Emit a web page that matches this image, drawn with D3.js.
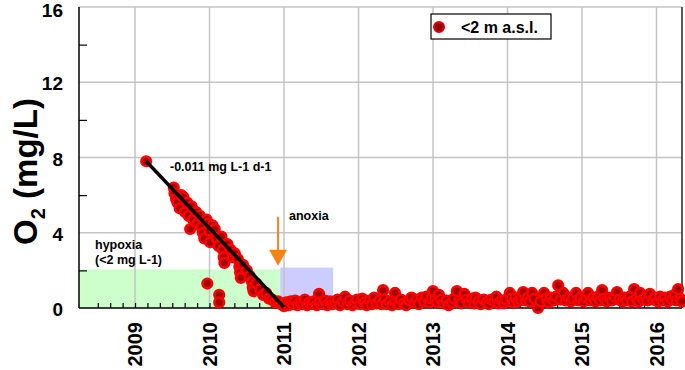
<!DOCTYPE html>
<html>
<head>
<meta charset="utf-8">
<script src="https://cdn.jsdelivr.net/npm/d3@7"></script>
<style>
  body { margin: 0; background: #fff; }
  text { font-family: "Liberation Sans", Arial, sans-serif; font-weight: bold; }
</style>
</head>
<body>
<svg id="chart" width="685" height="370"></svg>
<script>
// sample values: [decimal year, O2 mg/L]
const decline = [
  [2009.15,7.8],[2009.52,6.4],[2009.53,6.1],[2009.55,5.8],[2009.57,5.6],[2009.60,5.3],[2009.62,6.0],
  [2009.65,5.9],[2009.67,5.1],[2009.70,5.6],[2009.72,4.9],[2009.74,4.2],[2009.76,5.4],[2009.78,4.7],
  [2009.82,5.1],[2009.84,4.5],[2009.87,4.9],[2009.89,4.3],[2009.91,4.0],[2009.93,3.7],[2009.96,4.7],
  [2009.97,1.3],[2009.99,4.5],[2010.00,4.1],[2010.01,3.5],[2010.04,4.4],[2010.07,4.2],[2010.10,3.7],
  [2010.12,3.3],[2010.13,0.7],[2010.13,0.3],[2010.16,3.8],[2010.18,3.1],[2010.19,2.7],[2010.20,2.4],
  [2010.24,3.4],[2010.28,3.1],[2010.31,2.7],[2010.34,2.9],[2010.38,2.6],[2010.40,2.2],[2010.41,1.9],
  [2010.42,1.6],[2010.45,2.3],[2010.50,2.0],[2010.54,1.7],[2010.57,1.4],[2010.58,1.1],[2010.59,0.9],
  [2010.63,1.3],[2010.68,1.0],[2010.72,0.7],[2010.76,0.8],[2010.80,0.5],[2010.84,0.45],[2010.88,0.3],
  [2010.92,0.35],[2010.96,0.2],[2011.00,0.1]
];
const after2011 = [
  [2011.03,0.3],[2011.06,0.15],[2011.09,0.35],[2011.12,0.2],[2011.15,0.4],[2011.18,0.15],[2011.22,0.3],
  [2011.25,0.2],[2011.28,0.45],[2011.31,0.15],[2011.34,0.3],[2011.37,0.2],[2011.40,0.35],[2011.44,0.15],
  [2011.47,0.75],[2011.48,0.3],[2011.52,0.2],[2011.55,0.4],[2011.58,0.15],[2011.62,0.35],[2011.65,0.2],
  [2011.69,0.3],[2011.72,0.45],[2011.75,0.15],[2011.79,0.35],[2011.82,0.6],[2011.85,0.2],[2011.88,0.4],
  [2011.92,0.15],[2011.95,0.3],[2011.98,0.45]
];
const after2012 = [
  [2012.02,0.2],[2012.05,0.5],[2012.08,0.3],[2012.11,0.15],[2012.15,0.4],[2012.18,0.2],[2012.21,0.55],
  [2012.24,0.25],[2012.28,0.4],[2012.31,0.2],[2012.33,0.95],[2012.35,0.45],[2012.38,0.2],[2012.42,0.35],
  [2012.45,0.15],[2012.49,0.8],[2012.50,0.3],[2012.54,0.2],[2012.57,0.45],[2012.61,0.25],[2012.64,0.15],
  [2012.68,0.4],[2012.71,0.55],[2012.75,0.3],[2012.78,0.45],[2012.81,0.2],[2012.85,0.55],[2012.88,0.35],
  [2012.91,0.6],[2012.95,0.3],[2012.98,0.5]
];
const after2013 = [
  [2013.00,0.9],[2013.03,0.45],[2013.06,0.3],[2013.08,0.7],[2013.11,0.45],[2013.14,0.25],[2013.18,0.4],
  [2013.21,0.15],[2013.25,0.3],[2013.28,0.5],[2013.32,0.9],[2013.35,0.4],[2013.38,0.25],[2013.42,0.75],
  [2013.45,0.45],[2013.48,0.3],[2013.52,0.5],[2013.55,0.25],[2013.57,0.55],[2013.61,0.35],[2013.64,0.2],
  [2013.68,0.45],[2013.72,0.3],[2013.75,0.2],[2013.78,0.45],[2013.82,0.35],[2013.85,0.6],[2013.88,0.25],
  [2013.92,0.4],[2013.95,0.25],[2013.98,0.45]
];
const after2014 = [
  [2014.03,0.8],[2014.05,0.5],[2014.08,0.3],[2014.11,0.55],[2014.14,0.35],[2014.18,0.45],[2014.21,0.85],
  [2014.24,0.4],[2014.27,0.55],[2014.30,0.35],[2014.33,0.8],[2014.36,0.5],[2014.41,0.0],[2014.44,0.35],
  [2014.49,0.8],[2014.52,0.5],[2014.55,0.3],[2014.58,0.55],[2014.62,0.4],[2014.65,0.6],[2014.68,1.2],
  [2014.71,0.45],[2014.75,0.8],[2014.78,0.4],[2014.82,0.55],[2014.85,0.35],[2014.88,0.5],[2014.92,0.8],
  [2014.95,0.4],[2014.98,0.55]
];
const after2015 = [
  [2015.02,0.35],[2015.05,0.55],[2015.08,0.8],[2015.11,0.4],[2015.15,0.55],[2015.18,0.35],[2015.21,0.6],
  [2015.24,0.4],[2015.27,0.95],[2015.30,0.5],[2015.33,0.35],[2015.37,0.55],[2015.40,0.4],[2015.44,0.6],
  [2015.47,0.85],[2015.50,0.45],[2015.54,0.35],[2015.57,0.55],[2015.60,0.4],[2015.64,0.6],[2015.67,0.35],
  [2015.70,1.0],[2015.73,0.5],[2015.76,0.35],[2015.78,0.8],[2015.82,0.45],[2015.85,0.6],[2015.88,0.4],
  [2015.91,0.75],[2015.95,0.45],[2015.98,0.55],
  [2016.02,0.35],[2016.05,0.6],[2016.08,0.4],[2016.11,0.55],[2016.15,0.35],[2016.18,0.6],[2016.21,0.45],
  [2016.24,0.7],[2016.27,0.4],[2016.29,1.0],[2016.32,0.5],[2016.34,0.35]
];

const yearTicks = [2009, 2010, 2011, 2012, 2013, 2014, 2015, 2016];
const yTicks = [0, 4, 8, 12, 16];
const yMinor = [2, 6, 10, 14];
const trend = [[2009.15, 7.8], [2011.0, 0.05]];
const slopeLabel = "-0.011 mg L-1 d-1";
const hypoxiaBand = [2008.248, 2011.0, 2.05];   // x0, x1, top
const anoxiaBand = [2010.95, 2011.66, 2.15];
const seriesName = "<2 m a.s.l.";

const svg = d3.select("#chart");
const margin = {top: 7, left: 79, right: 3, bottom: 62};
const W = 685, H = 370;

const x = d3.scaleLinear().domain([2008.248, 2016.342]).range([margin.left, W - margin.right]);
const y = d3.scaleLinear().domain([0, 16]).range([H - margin.bottom, margin.top]);

// shaded bands
svg.append("rect")
  .attr("x", x(hypoxiaBand[0])).attr("y", y(hypoxiaBand[2]))
  .attr("width", x(hypoxiaBand[1]) - x(hypoxiaBand[0])).attr("height", y(0) - y(hypoxiaBand[2]))
  .attr("fill", "#ccffcc");
svg.append("rect")
  .attr("x", x(anoxiaBand[0])).attr("y", y(anoxiaBand[2]))
  .attr("width", x(anoxiaBand[1]) - x(anoxiaBand[0])).attr("height", y(0) - y(anoxiaBand[2]))
  .attr("fill", "#ccccff");

// grid
svg.append("g").selectAll("line").data(yTicks.slice(1)).join("line")
  .attr("x1", x.range()[0]).attr("x2", x.range()[1])
  .attr("y1", d => y(d)).attr("y2", d => y(d))
  .attr("stroke", "#c4c4c4").attr("stroke-width", 1.5);
svg.append("g").selectAll("line").data(yearTicks).join("line")
  .attr("x1", d => x(d)).attr("x2", d => x(d))
  .attr("y1", y(0)).attr("y2", y(16))
  .attr("stroke", "#c4c4c4").attr("stroke-width", 1.5);

// axes
const yAxis = d3.axisRight(y).tickValues(yMinor).tickSize(8).tickFormat("");
svg.append("g").attr("transform", `translate(${margin.left},0)`).call(yAxis)
  .call(g => g.select(".domain").remove())
  .selectAll("line").attr("stroke", "#000").attr("stroke-width", 1.2);

const minorX = d3.range(2008.5, 2016.34, 1 / 6);
const xAxis = d3.axisTop(x).tickValues(minorX).tickSize(5).tickFormat("");
svg.append("g").attr("transform", `translate(0,${y(0)})`).call(xAxis)
  .call(g => g.select(".domain").remove())
  .selectAll("line").attr("stroke", "#000").attr("stroke-width", 1.2);

svg.append("line").attr("x1", x.range()[0]).attr("x2", x.range()[1])
  .attr("y1", y(0)).attr("y2", y(0)).attr("stroke", "#000").attr("stroke-width", 1.5);
svg.append("line").attr("x1", x.range()[0]).attr("x2", x.range()[0])
  .attr("y1", y(0)).attr("y2", y(16)).attr("stroke", "#000").attr("stroke-width", 1.5);
svg.append("line").attr("x1", x.range()[1]).attr("x2", x.range()[1])
  .attr("y1", y(0)).attr("y2", y(16)).attr("stroke", "#222").attr("stroke-width", 1.5);

// y labels (top one nudged so it stays inside the frame)
svg.append("g").selectAll("text").data(yTicks).join("text")
  .attr("x", 63).attr("y", d => y(d) + (d === 16 ? 2 : 0)).attr("dy", "0.43em")
  .attr("text-anchor", "end").attr("font-size", 19)
  .text(d => d);

// x labels
svg.append("g").selectAll("text").data(yearTicks).join("text")
  .attr("transform", d => `translate(${x(d)},${y(0) + 14}) rotate(-90)`)
  .attr("text-anchor", "end").attr("dy", "0.36em").attr("font-size", 20)
  .text(d => d);

// y title
const yt = svg.append("text")
  .attr("transform", `translate(37,${(y(0) + y(16)) / 2 + 14}) rotate(-90)`)
  .attr("text-anchor", "middle").attr("font-size", 33);
yt.append("tspan").text("O");
yt.append("tspan").attr("font-size", 20).attr("dy", 8).text("2");
yt.append("tspan").attr("dy", -8).text(" (mg/L)");

// points
const all = [].concat(decline, after2011, after2012, after2013, after2014, after2015);
svg.append("g").selectAll("circle").data(all).join("circle")
  .attr("cx", d => x(d[0])).attr("cy", d => y(d[1])).attr("r", 4.8)
  .attr("fill", "#a30000").attr("stroke", "#ff0000").attr("stroke-width", 2.6);

// trend line
svg.append("line")
  .attr("x1", x(trend[0][0])).attr("y1", y(trend[0][1]))
  .attr("x2", x(trend[1][0])).attr("y2", y(trend[1][1]))
  .attr("stroke", "#000").attr("stroke-width", 3.4);

// annotations
svg.append("text").attr("x", 170).attr("y", 171).attr("font-size", 12.5).text(slopeLabel);
svg.append("text").attr("x", 95).attr("y", 249).attr("font-size", 12.5).text("hypoxia");
svg.append("text").attr("x", 95).attr("y", 264).attr("font-size", 12.5).text("(<2 mg L-1)");
svg.append("text").attr("x", 289).attr("y", 220).attr("font-size", 12.5).text("anoxia");

// arrow
const ax = x(2010.92);
svg.append("line").attr("x1", ax).attr("x2", ax).attr("y1", y(4.85)).attr("y2", y(3.0))
  .attr("stroke", "#f7821b").attr("stroke-width", 2);
svg.append("path")
  .attr("d", `M${ax - 9},${y(3.1)} L${ax + 9},${y(3.1)} L${ax},${y(2.25)} Z`)
  .attr("fill", "#f7821b");

// legend
const lg = svg.append("g").attr("transform", "translate(431,14)");
lg.append("rect").attr("width", 120).attr("height", 25)
  .attr("fill", "#fff").attr("stroke", "#000").attr("stroke-width", 1.2);
lg.append("circle").attr("cx", 8).attr("cy", 13).attr("r", 5)
  .attr("fill", "#9a0000").attr("stroke", "#e00000").attr("stroke-width", 2);
lg.append("text").attr("x", 30).attr("y", 18.5).attr("font-size", 16).text(seriesName);
</script>
</body>
</html>
